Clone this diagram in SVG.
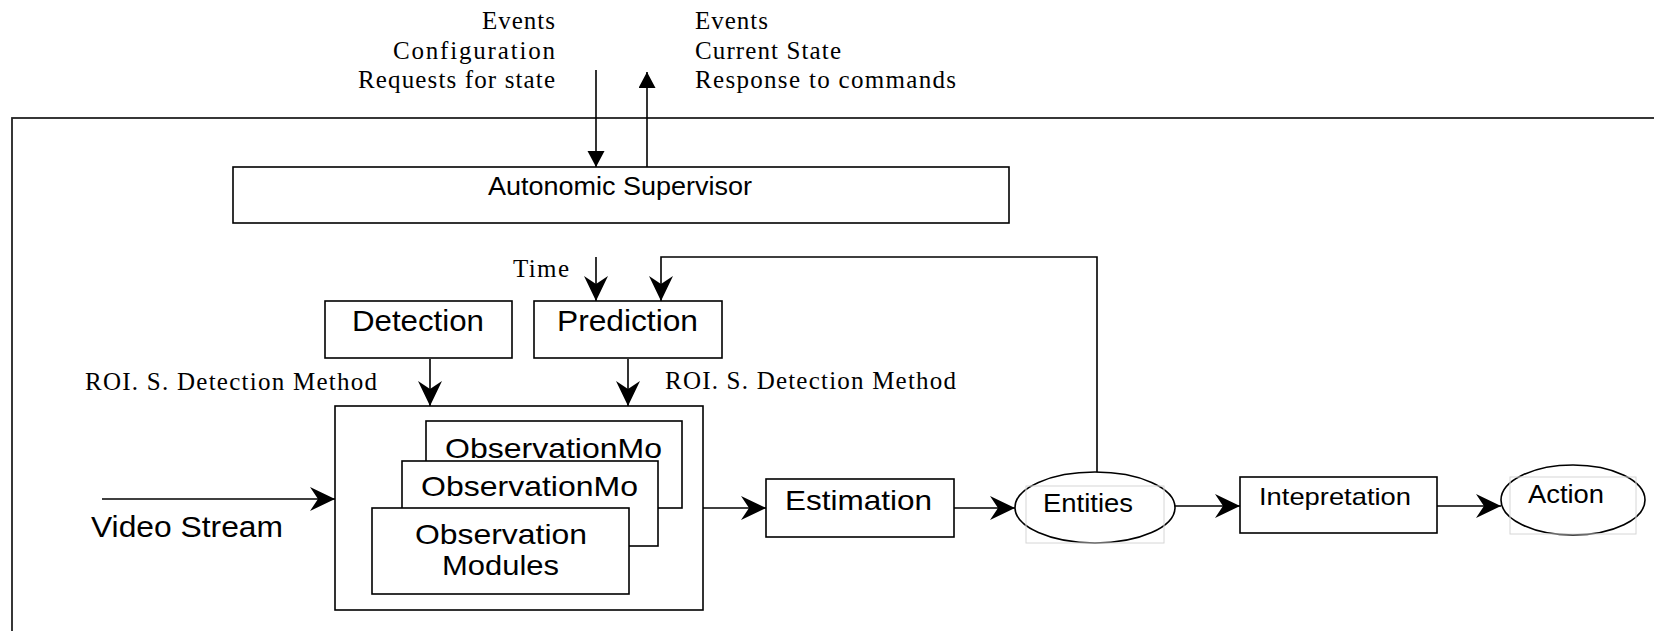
<svg xmlns="http://www.w3.org/2000/svg" width="1654" height="631" viewBox="0 0 1654 631">
<style>
.box{fill:#fff;stroke:#000;stroke-width:1.6}
.frame{fill:none;stroke:#222;stroke-width:1.8}
.faint{fill:none;stroke:#d6d6d6;stroke-width:1}
.ser{font-family:"Liberation Serif","Times New Roman",serif;font-size:25px;fill:#000}
.san{font-family:"Liberation Sans",Arial,sans-serif;fill:#000}
.conn{fill:none;stroke:#000;stroke-width:1.6}
</style>
<defs>
<marker id="stealth" markerUnits="userSpaceOnUse" markerWidth="26" markerHeight="26" refX="25" refY="12" orient="auto">
<path d="M0,0 L25,12 L0,24 L8,12 Z" fill="#000"/>
</marker>
<marker id="tri" markerUnits="userSpaceOnUse" markerWidth="18" markerHeight="18" refX="16" refY="8.5" orient="auto">
<path d="M0,0 L16,8.5 L0,17 Z" fill="#000"/>
</marker>
</defs>
<rect width="1654" height="631" fill="#fff"/>
<rect id="system-frame" class="frame" x="12" y="118" width="1700" height="600"/>
<g id="labels-in">
<text class="ser" x="555" y="29" text-anchor="end" textLength="73">Events</text>
<text class="ser" x="555" y="59" text-anchor="end" textLength="162">Configuration</text>
<text class="ser" x="555" y="88" text-anchor="end" textLength="197">Requests for state</text>
</g>
<g id="labels-out">
<text class="ser" x="695" y="29" textLength="73">Events</text>
<text class="ser" x="695" y="59" textLength="146">Current State</text>
<text class="ser" x="695" y="88" textLength="261">Response to commands</text>
</g>
<g id="supervisor">
<rect class="box" x="233" y="167" width="776" height="56"/>
<text class="san" x="488" y="195" font-size="26" textLength="264" lengthAdjust="spacingAndGlyphs">Autonomic Supervisor</text>
</g>
<text id="time-label" class="ser" x="569" y="277" text-anchor="end" textLength="56">Time</text>
<g id="detection">
<rect class="box" x="325" y="301" width="187" height="57"/>
<text class="san" x="352" y="331" font-size="29" textLength="132" lengthAdjust="spacingAndGlyphs">Detection</text>
</g>
<g id="prediction">
<rect class="box" x="534" y="301" width="188" height="57"/>
<text class="san" x="557" y="331" font-size="29" textLength="141" lengthAdjust="spacingAndGlyphs">Prediction</text>
</g>
<text id="roi-left" class="ser" x="85" y="390" textLength="292">ROI. S. Detection Method</text>
<text id="roi-right" class="ser" x="665" y="389" textLength="291">ROI. S. Detection Method</text>
<g id="observation">
<rect class="box" x="335" y="406" width="368" height="204"/>
<rect class="box" x="426" y="421" width="256" height="87"/>
<text class="san" x="445" y="458" font-size="28" textLength="217" lengthAdjust="spacingAndGlyphs">ObservationMo</text>
<rect class="box" x="402" y="461" width="256" height="85"/>
<text class="san" x="421" y="496" font-size="28" textLength="217" lengthAdjust="spacingAndGlyphs">ObservationMo</text>
<rect class="box" x="372" y="508" width="257" height="86"/>
<text class="san" x="415" y="544" font-size="28" textLength="172" lengthAdjust="spacingAndGlyphs">Observation</text>
<text class="san" x="442" y="575" font-size="28" textLength="117" lengthAdjust="spacingAndGlyphs">Modules</text>
</g>
<text id="video-stream" class="san" x="91" y="537" font-size="29" textLength="192" lengthAdjust="spacingAndGlyphs">Video Stream</text>
<g id="estimation">
<rect class="box" x="766" y="479" width="188" height="58"/>
<text class="san" x="785" y="510" font-size="28" textLength="147" lengthAdjust="spacingAndGlyphs">Estimation</text>
</g>
<g id="entities">
<ellipse class="box" cx="1095" cy="507.5" rx="80" ry="35.5"/>
<rect class="faint" x="1026" y="486" width="138" height="57"/>
<text class="san" x="1043" y="512" font-size="25" textLength="90" lengthAdjust="spacingAndGlyphs">Entities</text>
</g>
<g id="interpretation">
<rect class="box" x="1240" y="477" width="197" height="56"/>
<text class="san" x="1259" y="505" font-size="24" textLength="152" lengthAdjust="spacingAndGlyphs">Intepretation</text>
</g>
<g id="action">
<ellipse class="box" cx="1573" cy="500" rx="72" ry="35"/>
<rect class="faint" x="1510" y="477" width="126" height="57"/>
<text class="san" x="1528" y="503" font-size="25" textLength="76" lengthAdjust="spacingAndGlyphs">Action</text>
</g>
<g id="connectors">
<line class="conn" x1="596" y1="70" x2="596" y2="167" marker-end="url(#tri)"/>
<line class="conn" x1="647" y1="167" x2="647" y2="72" marker-end="url(#tri)"/>
<line class="conn" x1="596" y1="257" x2="596" y2="301" marker-end="url(#stealth)"/>
<polyline class="conn" points="1097,472 1097,257 661,257 661,301" marker-end="url(#stealth)"/>
<line class="conn" x1="430" y1="359" x2="430" y2="406" marker-end="url(#stealth)"/>
<line class="conn" x1="628" y1="359" x2="628" y2="406" marker-end="url(#stealth)"/>
<line class="conn" x1="102" y1="499" x2="335" y2="499" marker-end="url(#stealth)"/>
<line class="conn" x1="703" y1="508" x2="766" y2="508" marker-end="url(#stealth)"/>
<line class="conn" x1="954" y1="508" x2="1015" y2="508" marker-end="url(#stealth)"/>
<line class="conn" x1="1175" y1="506" x2="1240" y2="506" marker-end="url(#stealth)"/>
<line class="conn" x1="1437" y1="506" x2="1501" y2="506" marker-end="url(#stealth)"/>
</g>
</svg>
